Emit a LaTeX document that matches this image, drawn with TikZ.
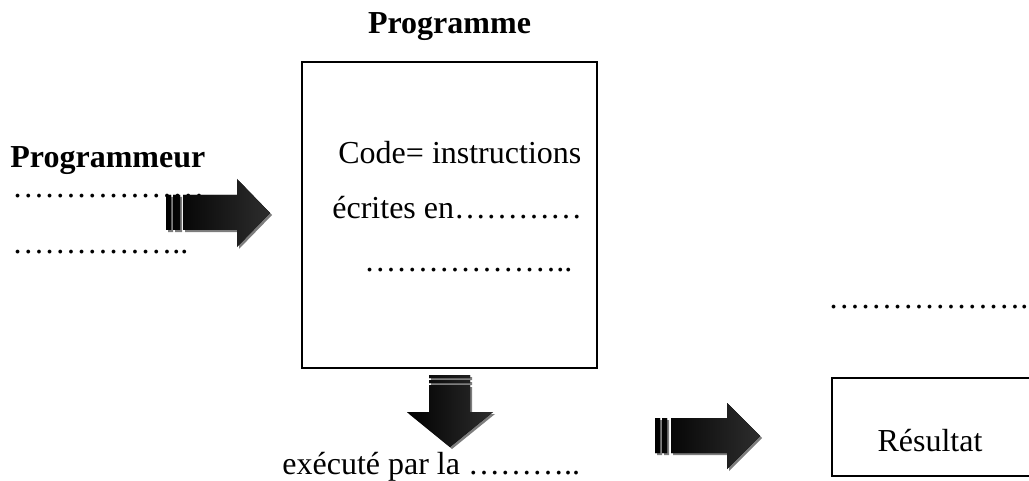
\documentclass[tikz,border=0pt]{standalone}
\usepackage{fontspec}
\setmainfont{Liberation Serif}
\usetikzlibrary{positioning}
\usetikzlibrary{shadows}

\begin{document}
\begin{tikzpicture}[
        x=0.5pt, y=-0.5pt,
        every node/.style={inner sep=0pt, font=\fontsize{16}{19}\selectfont},
        box/.style={draw, line width=1pt},
        title/.style={font=\fontsize{16}{19}\selectfont\bfseries},
        bigarrow/.style={left color=black, right color=arrowtip,
            drop shadow={shadow xshift=1pt, shadow yshift=-1pt, opacity=1, fill=arrowshadow}},
    ]
        % Colors
        \definecolor{arrowtip}{RGB}{45,45,45}
        \definecolor{arrowshadow}{RGB}{125,125,125}
        \clip (0,0) rectangle (1029,481);

        % Titles
        \node[title, anchor=base] (progtitle) at (449.5,34) {Programme};
        \node[title, anchor=base west] (programmeur) at (10,168) {Programmeur};
        \node[anchor=base west] (dotsa) at (12,198) {………………};
        \node[anchor=base west] (dotsb) at (12,253) {……………..};

        % Program box
        \node[box, minimum width=147.5pt, minimum height=153pt] (prog) at (449.5,215) {};
        \node[anchor=base west] (code) at (338,163) {Code= instructions};
        \node[anchor=base west] (ecrites) at (332,219) {écrites en…………};
        \node[anchor=base west] (codedots) at (364,271) {………………..};
        \node[anchor=base west] (execute) at (282,474) {exécuté par la ………..};

        % Result box
        \node[anchor=base west] (resdots) at (828,308) {……………….};
        \node[box, minimum width=120pt, minimum height=49pt] (res) at (952,427) {};
        \node[anchor=base] (restext) at (930,451) {Résultat};

        % Arrows
        \fill[bigarrow] (166,195) rectangle (171,230) (173,195) rectangle (180,230)
            (183,195) -- (237,195) -- (237,179) -- (270,213) -- (237,247) -- (237,230) -- (183,230) -- cycle;
        \fill[bigarrow] (429,375) rectangle (470,378) (429,380) rectangle (470,383)
            (429,385) -- (470,385) -- (470,412) -- (493,412) -- (450,447) -- (407,412) -- (429,412) -- cycle;
        \fill[bigarrow] (655,418) rectangle (660,453) (662,418) rectangle (667,453)
            (671,418) -- (727,418) -- (727,403) -- (760,436) -- (727,469) -- (727,453) -- (671,453) -- cycle;
    \end{tikzpicture}
\end{document}
